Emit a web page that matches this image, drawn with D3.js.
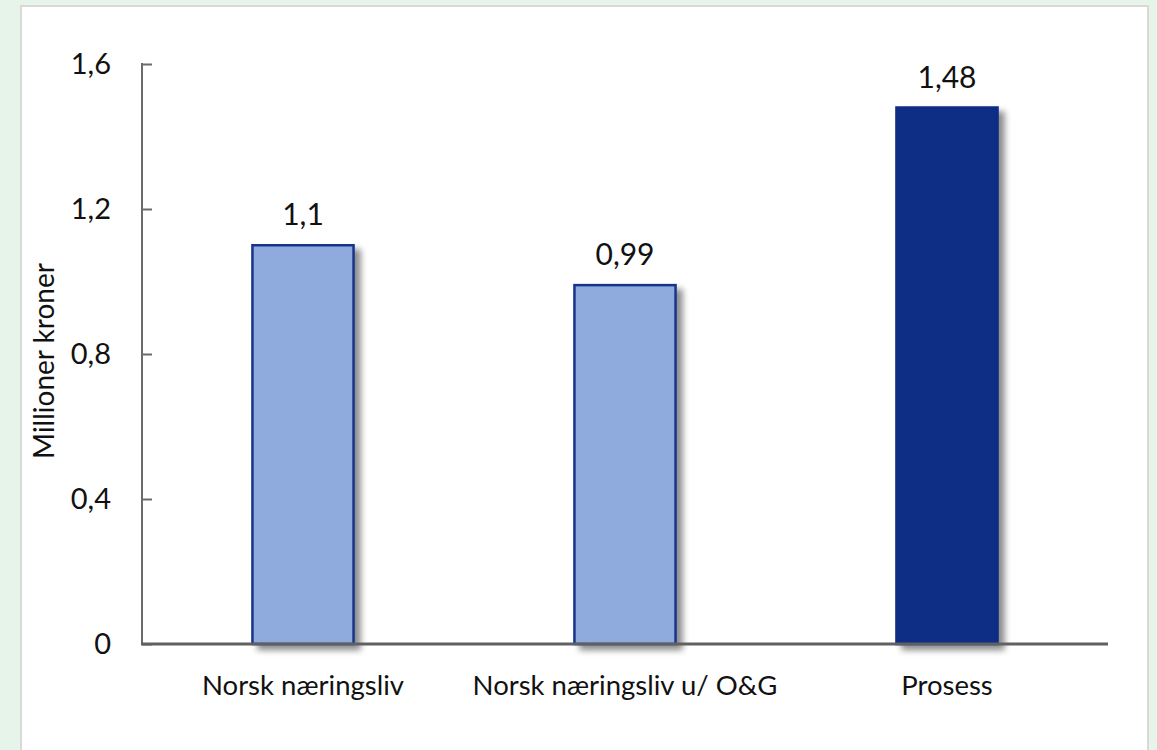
<!DOCTYPE html>
<html>
<head>
<meta charset="utf-8">
<script src="https://cdn.jsdelivr.net/npm/d3@7"></script>
<style>
  html, body { margin: 0; padding: 0; background: #e6f4e9; }
  svg { display: block; font-family: Lato, 'Open Sans', sans-serif; }
</style>
</head>
<body>
<svg></svg>
<script>
let width = 1157
let height = 750

// data
let categories = ['Norsk næringsliv', 'Norsk næringsliv u/ O&G', 'Prosess']
let values = [1.1, 0.99, 1.48]
let valueLabels = ['1,1', '0,99', '1,48']
let highlight = [false, false, true]
let yTicks = [0, 0.4, 0.8, 1.2, 1.6]

let margin = {left: 142, right: 49, top: 64, bottom: 106}

let svg = d3.select('svg')
    .attr('width', width)
    .attr('height', height)

let defs = svg.append('defs')
let shadow = defs.append('filter')
    .attr('id', 'shadow')
    .attr('x', '-20%').attr('y', '-20%')
    .attr('width', '160%').attr('height', '160%')
shadow.append('feGaussianBlur').attr('in', 'SourceAlpha').attr('stdDeviation', 3)
shadow.append('feOffset').attr('dx', 6).attr('dy', 5).attr('result', 'blur')
shadow.append('feComponentTransfer').append('feFuncA').attr('type', 'linear').attr('slope', 0.45)
let merge = shadow.append('feMerge')
merge.append('feMergeNode')
merge.append('feMergeNode').attr('in', 'SourceGraphic')

// white panel
svg.append('rect')
    .attr('x', 21).attr('y', 6)
    .attr('width', 1127).attr('height', 760)
    .attr('fill', '#fff')
    .attr('stroke', '#d9d9d9')
    .attr('stroke-width', 2)

let x = d3.scaleBand()
    .domain(categories)
    .range([margin.left, width - margin.right])
    .paddingInner(0.686)
    .paddingOuter(0.343)

let y = d3.scaleLinear()
    .domain([0, 1.6])
    .range([height - margin.bottom, margin.top])

let fmt = d => d3.format('.1f')(d).replace('.', ',')

// y axis
let yAxis = svg.append('g')
    .attr('transform', `translate(${margin.left},0)`)
    .call(d3.axisRight(y).tickValues(yTicks).tickSize(10).tickFormat(''))
yAxis.select('.domain').remove()
yAxis.selectAll('.tick line').attr('stroke', '#6b6b6b').attr('stroke-width', 2)
svg.append('line')
    .attr('x1', margin.left).attr('x2', margin.left)
    .attr('y1', y(1.6) - 1).attr('y2', y(0))
    .attr('stroke', '#6b6b6b').attr('stroke-width', 2)

svg.append('g').selectAll('text')
    .data(yTicks).enter()
    .append('text')
    .attr('x', 111)
    .attr('y', d => y(d))
    .attr('dy', '0.36em')
    .attr('text-anchor', 'end')
    .attr('font-size', 29)
    .attr('fill', '#111')
    .text(d => d === 0 ? '0' : fmt(d))

svg.append('text')
    .attr('transform', `translate(54,361) rotate(-90)`)
    .attr('text-anchor', 'middle')
    .attr('font-size', 28)
    .attr('fill', '#111')
    .text('Millioner kroner')

// bars
svg.append('g').selectAll('rect')
    .data(values).enter()
    .append('rect')
    .attr('x', (d, i) => x(categories[i]))
    .attr('y', d => y(d))
    .attr('width', x.bandwidth())
    .attr('height', d => y(0) - y(d))
    .attr('fill', (d, i) => highlight[i] ? '#0b2d84' : '#8faadc')
    .attr('stroke', (d, i) => highlight[i] ? '#0b2d84' : '#16358a')
    .attr('stroke-width', 2.5)
    .attr('filter', 'url(#shadow)')

// x axis line
svg.append('line')
    .attr('x1', margin.left - 1).attr('x2', width - margin.right)
    .attr('y1', y(0)).attr('y2', y(0))
    .attr('stroke', '#606060').attr('stroke-width', 3)

// value labels
svg.append('g').selectAll('text')
    .data(values).enter()
    .append('text')
    .attr('x', (d, i) => x(categories[i]) + x.bandwidth() / 2)
    .attr('y', d => y(d) - 20)
    .attr('text-anchor', 'middle')
    .attr('font-size', 30)
    .attr('fill', '#111')
    .text((d, i) => valueLabels[i])

// category labels
svg.append('g').selectAll('text')
    .data(categories).enter()
    .append('text')
    .attr('x', d => x(d) + x.bandwidth() / 2)
    .attr('y', 695)
    .attr('text-anchor', 'middle')
    .attr('font-size', 27.5)
    .attr('fill', '#111')
    .text(d => d)
</script>
</body>
</html>
